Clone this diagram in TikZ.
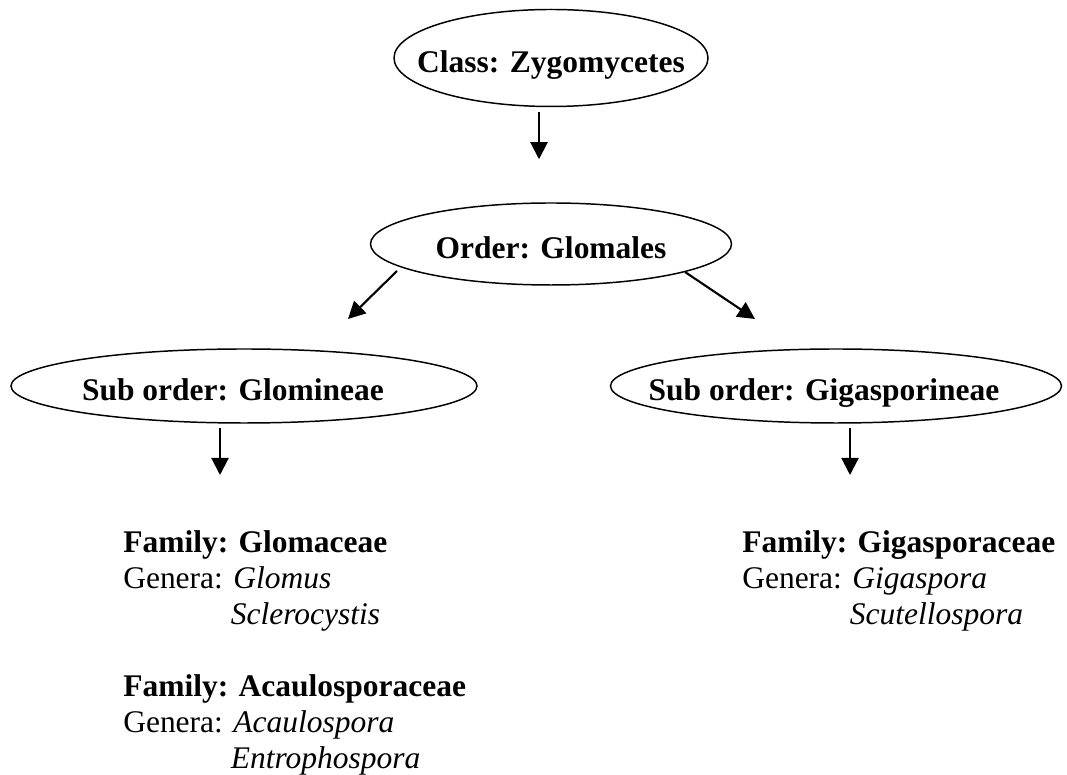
\documentclass[tikz,border=0pt]{standalone}
\usepackage{fontspec}
\setmainfont{Liberation Serif}
\usepackage{tikz}
\usetikzlibrary{shapes.geometric,arrows.meta,positioning,calc}

\begin{document}
\begin{tikzpicture}[
  taxon/.style={ellipse, draw, line width=1.05pt, inner sep=0pt, text height=1.0cm, text depth=0.25cm, font=\fontsize{22.4pt}{25.6pt}\selectfont\bfseries},
  genus/.style={anchor=north west, inner sep=0pt, align=left, font=\fontsize{22.4pt}{25.6pt}\selectfont},
  arrow/.style={-{Triangle[length=0.43cm,width=0.43cm]}, line width=1.5pt}
]
  \useasboundingbox (0,0) rectangle (26.675,19.375);

  \node[taxon, minimum width=7.85cm, minimum height=2.425cm] (cls) at (13.775,17.925) {\makebox[0pt]{Class: Zygomycetes}};
  \node[taxon, minimum width=9.025cm, minimum height=2.05cm] (ord) at (13.775,13.275) {\makebox[0pt]{Order: Glomales}};
  \node[taxon, minimum width=11.65cm, minimum height=1.85cm] (gl) at (6.1,9.725) {\makebox[0pt]{Sub order: Glomineae\hspace{0.55cm}}};
  \node[taxon, minimum width=11.275cm, minimum height=1.85cm] (gg) at (20.9,9.725) {\makebox[0pt]{Sub order: Gigasporineae\hspace{0.6cm}}};

  \node[genus] (glo) at (3.075,6.125) {\textbf{Family: Glomaceae}\\
    Genera: \textit{Glomus}\\
    \hphantom{Genera:~}\textit{Sclerocystis}\\[0.9cm]
    \textbf{Family: Acaulosporaceae}\\
    Genera: \textit{Acaulospora}\\
    \hphantom{Genera:~}\textit{Entrophospora}};
  \node[genus] (gig) at (18.55,6.125) {\textbf{Family: Gigasporaceae}\\
    Genera: \textit{Gigaspora}\\
    \hphantom{Genera:~}\textit{Scutellospora}};

  \draw[arrow, shorten <=0.125cm, shorten >=1.075cm] ([xshift=-0.3cm]cls.south) -- ([xshift=-0.3cm]ord.north);
  \draw[arrow] ([shift={(-3.85,-0.675)}]ord.center) -- ([shift={(2.6,1.675)}]gl.center);
  \draw[arrow] ([shift={(3.35,-0.7)}]ord.center) -- ([shift={(-2.025,1.675)}]gg.center);
  \draw[arrow, shorten <=0.1cm, shorten >=1.375cm] ([xshift=-0.6cm]gl.south) -- ([xshift=-0.6cm]gl.south |- glo.north);
  \draw[arrow, shorten <=0.1cm, shorten >=1.375cm] ([xshift=0.35cm]gg.south) -- ([xshift=0.35cm]gg.south |- gig.north);
\end{tikzpicture}
\end{document}
